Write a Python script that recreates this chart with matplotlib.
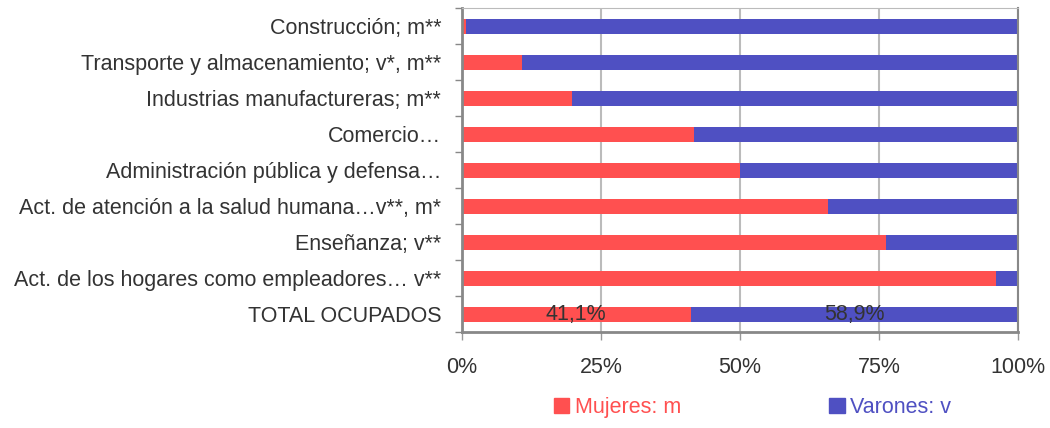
import numpy as np
import matplotlib
matplotlib.use("Agg")
import matplotlib.pyplot as plt
from matplotlib.patches import Patch

plt.rcParams["font.family"] = ["Liberation Sans", "DejaVu Sans"]

# ── Data ──────────────────────────────────────────────────────────────────────
categories = [
    "Construcción; m**",
    "Transporte y almacenamiento; v*, m**",
    "Industrias manufactureras; m**",
    "Comercio…",
    "Administración pública y defensa…",
    "Act. de atención a la salud humana…v**, m*",
    "Enseñanza; v**",
    "Act. de los hogares como empleadores… v**",
    "TOTAL OCUPADOS",
]
mujeres = [0.8, 10.8, 19.8, 41.7, 50.0, 65.8, 76.2, 96.0, 41.1]
varones = [100 - m for m in mujeres]
total_labels = ["41,1%", "58,9%"]

RED = "#FF5050"
BLUE = "#4F50C2"
TXT = "#333333"
FS = 15.5

# ── Plot ──────────────────────────────────────────────────────────────────────
fig = plt.figure(figsize=(10.5, 4.28), dpi=100)
ax = fig.add_axes([0.44, 0.224, 0.5295, 0.757])

y = np.arange(len(categories))
ax.barh(y, mujeres, color=RED, height=0.42, zorder=2)
ax.barh(y, varones, left=mujeres, color=BLUE, height=0.42, zorder=2)

# data labels on total row
last = len(categories) - 1
ax.text(mujeres[last] / 2, last, total_labels[0], ha="center", va="center",
        fontsize=FS, color=TXT, zorder=3)
ax.text(mujeres[last] + varones[last] / 2, last, total_labels[1], ha="center",
        va="center", fontsize=FS, color=TXT, zorder=3)

ax.set_xlim(0, 100)
ax.set_ylim(len(categories) - 0.5, -0.5)
ax.set_xticks([0, 25, 50, 75, 100])
ax.set_xticklabels(["0%", "25%", "50%", "75%", "100%"])
ax.set_yticks(y)
ax.set_yticklabels(categories)
ax.set_yticks(np.arange(-0.5, len(categories)), minor=True)
ax.tick_params(axis="y", which="major", length=0, pad=15, labelsize=FS,
               labelcolor=TXT)
ax.tick_params(axis="y", which="minor", length=5, color="#888888", width=1)
ax.tick_params(axis="x", length=6, color="#999999", width=1, labelsize=FS,
               labelcolor=TXT, pad=12)

ax.grid(axis="x", color="#BBBBBB", lw=1.5, zorder=0)
for s in ["left", "bottom"]:
    ax.spines[s].set_color("#888888")
    ax.spines[s].set_linewidth(2)
ax.spines["top"].set_color("#BBBBBB")
ax.spines["right"].set_color("#888888")
ax.spines["right"].set_linewidth(1.5)

handles = [Patch(color=RED, label="Mujeres: m"), Patch(color=BLUE, label="Varones: v")]
leg = fig.legend(handles=handles, loc="center", bbox_to_anchor=(0.7167, 0.047),
                 ncol=2, frameon=False, fontsize=FS, handlelength=0.7,
                 handleheight=0.7, handletextpad=0.25, columnspacing=6.9)
for t, c in zip(leg.get_texts(), [RED, BLUE]):
    t.set_color(c)

plt.savefig("out.png", dpi=100)
plt.close()
